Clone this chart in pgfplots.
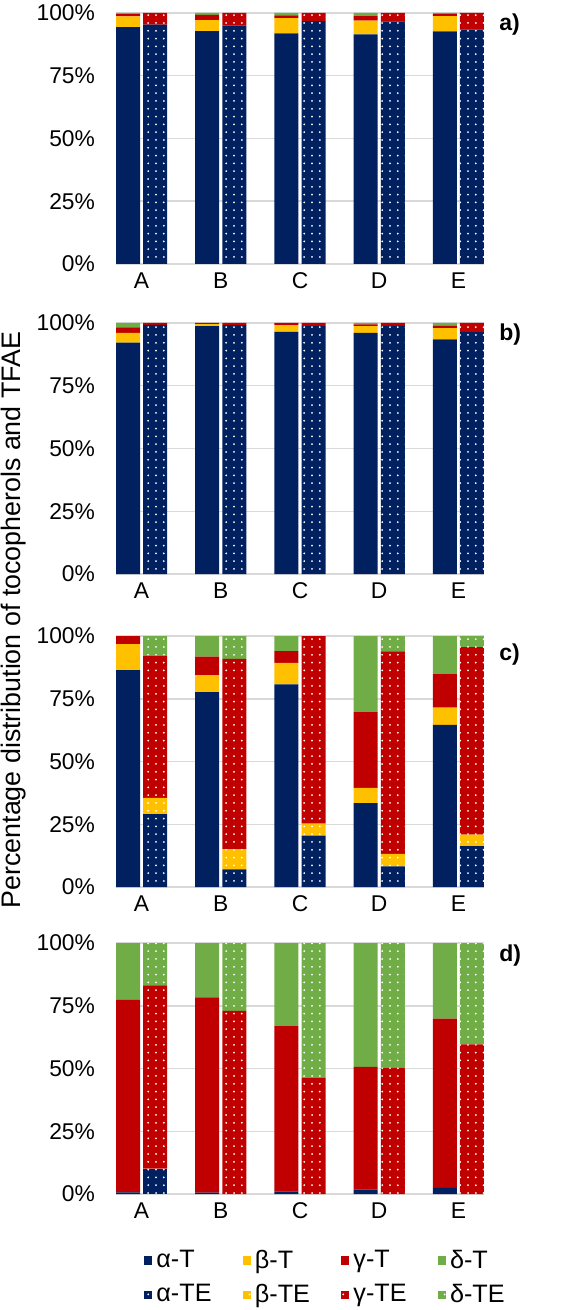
\documentclass[border=0pt]{standalone}
\usepackage{fontspec}
\setmainfont{Liberation Sans}
\usepackage{pgfplots}
\pgfplotsset{compat=1.18}
\usepackage{pgfplotstable}
\usetikzlibrary{patterns.meta}

\definecolor{cA}{HTML}{002060}
\definecolor{cB}{HTML}{FFC000}
\definecolor{cG}{HTML}{C00000}
\definecolor{cD}{HTML}{70AD47}
\definecolor{gridgray}{HTML}{D9D9D9}

% x: T bar at i-0.171, TE bar at i+0.171
\pgfplotstableread{
x aT bT gT dT aE bE gE dE
-0.171 94.4 4.3 0.8 0.5 0 0 0 0
0.171 0 0 0 0 95.4 0 4.6 0
0.829 92.8 4.4 2.1 0.7 0 0 0 0
1.171 0 0 0 0 95.0 0 5.0 0
1.829 91.9 6.1 1.1 0.9 0 0 0 0
2.171 0 0 0 0 96.8 0 3.2 0
2.829 91.5 5.5 1.8 1.2 0 0 0 0
3.171 0 0 0 0 96.7 0 3.3 0
3.829 92.7 6.1 0.8 0.4 0 0 0 0
4.171 0 0 0 0 93.4 0 6.6 0
}\dataA

\pgfplotstableread{
x aT bT gT dT aE bE gE dE
-0.171 92.2 3.9 2.2 1.7 0 0 0 0
0.171 0 0 0 0 99.3 0 0.7 0
0.829 98.8 0.8 0.4 0 0 0 0 0
1.171 0 0 0 0 99.2 0 0.8 0
1.829 96.5 2.7 0.8 0 0 0 0 0
2.171 0 0 0 0 98.8 0 1.2 0
2.829 96.1 2.7 0.7 0.5 0 0 0 0
3.171 0 0 0 0 98.9 0 1.1 0
3.829 93.5 4.5 0.9 1.1 0 0 0 0
4.171 0 0 0 0 96.4 0 3.6 0
}\dataB

\pgfplotstableread{
x aT bT gT dT aE bE gE dE
-0.171 86.4 10.4 3.2 0 0 0 0 0
0.171 0 0 0 0 29.0 6.5 56.7 7.8
0.829 77.6 6.8 7.4 8.2 0 0 0 0
1.171 0 0 0 0 7.0 8.0 75.9 9.1
1.829 80.7 8.6 4.7 6.0 0 0 0 0
2.171 0 0 0 0 20.5 4.8 74.7 0
2.829 33.4 6.1 30.2 30.3 0 0 0 0
3.171 0 0 0 0 8.2 5.0 80.7 6.1
3.829 64.6 6.9 13.3 15.2 0 0 0 0
4.171 0 0 0 0 16.3 4.6 74.7 4.4
}\dataC

\pgfplotstableread{
x aT bT gT dT aE bE gE dE
-0.171 0.7 0 76.6 22.7 0 0 0 0
0.171 0 0 0 0 10.1 0 73.0 16.9
0.829 0.6 0 77.7 21.7 0 0 0 0
1.171 0 0 0 0 0 0 73.0 27.0
1.829 1.0 0 65.9 33.1 0 0 0 0
2.171 0 0 0 0 0 0 46.4 53.6
2.829 1.7 0 49.0 49.3 0 0 0 0
3.171 0 0 0 0 0 0 50.4 49.6
3.829 2.4 0 67.5 30.1 0 0 0 0
4.171 0 0 0 0 0 0 59.6 40.4
}\dataD

\pgfplotsset{
  panel/.style={
    width=184pt, height=125.5pt, scale only axis,
    ybar stacked, bar width=12pt,
    xmin=-0.323, xmax=4.323, ymin=0, ymax=100,
    axis line style={draw=none},
    major tick length=0pt,
    ytick={0,25,50,75,100},
    yticklabel={\pgfmathprintnumber{\tick}\%},
    xtick={0,1,2,3,4}, xticklabels={A,B,C,D,E},
    ymajorgrids, grid style={color=gridgray, line width=0.75pt},
    /pgf/number format/assume math mode=true,
    tick label style={font=\fontsize{11.4}{13}\selectfont, text=black},
    yticklabel style={xshift=-7pt},
    xticklabel style={yshift=-0.7pt},
    legend image code/.code={\path[##1] (0pt,-2.1pt) rectangle (4.2pt,2.1pt);},
  },
  te/.style={postaction={pattern={Dots[distance=3.9pt, radius=0.5pt]}, pattern color=white}},
}

\newcommand{\panelplots}[1]{%
  \addplot[fill=cA, draw=none] table[x=x,y=aT]{#1};
  \addplot[fill=cB, draw=none] table[x=x,y=bT]{#1};
  \addplot[fill=cG, draw=none] table[x=x,y=gT]{#1};
  \addplot[fill=cD, draw=none] table[x=x,y=dT]{#1};
  \addplot[fill=cA, draw=none, te] table[x=x,y=aE]{#1};
  \addplot[fill=cB, draw=none, te] table[x=x,y=bE]{#1};
  \addplot[fill=cG, draw=none, te] table[x=x,y=gE]{#1};
  \addplot[fill=cD, draw=none, te] table[x=x,y=dE]{#1};
}

\begin{document}
\begin{tikzpicture}
\path[use as bounding box] (0,0) rectangle (283pt,-655pt);

\begin{axis}[panel, at={(58pt,-6.5pt)}, anchor=north west]
\panelplots{\dataA}
\end{axis}

\begin{axis}[panel, at={(58pt,-161.5pt)}, anchor=north west]
\panelplots{\dataB}
\end{axis}

\begin{axis}[panel, at={(58pt,-318pt)}, anchor=north west]
\panelplots{\dataC}
\end{axis}

\begin{axis}[panel, at={(58pt,-471.5pt)}, anchor=north west,
  legend columns=4,
  legend cell align=left,
  legend style={draw=none, fill=none, inner sep=0pt,
    at={(0.075,-0.205)}, anchor=north west,
    font=\fontsize{12.6}{14}\selectfont,
    row sep=2.5pt,
    /tikz/every even column/.append style={column sep=13.5pt}},
]
\panelplots{\dataD}
\legend{α-T, β-T, γ-T, δ-T, α-TE, β-TE, γ-TE, δ-TE}
\end{axis}

\node[rotate=90, anchor=base, font=\fontsize{13.4}{15}\selectfont] at (10.3pt,-310pt)
  {Percentage distribution of tocopherols and TFAE};

\node[anchor=west, inner sep=0pt, font=\fontsize{11.5}{13}\selectfont\bfseries] at (249.5pt,-12.3pt) {a)};
\node[anchor=west, inner sep=0pt, font=\fontsize{11.5}{13}\selectfont\bfseries] at (249.5pt,-167.5pt) {b)};
\node[anchor=west, inner sep=0pt, font=\fontsize{11.5}{13}\selectfont\bfseries] at (249.5pt,-327.3pt) {c)};
\node[anchor=west, inner sep=0pt, font=\fontsize{11.5}{13}\selectfont\bfseries] at (249.5pt,-477.9pt) {d)};
\end{tikzpicture}
\end{document}
